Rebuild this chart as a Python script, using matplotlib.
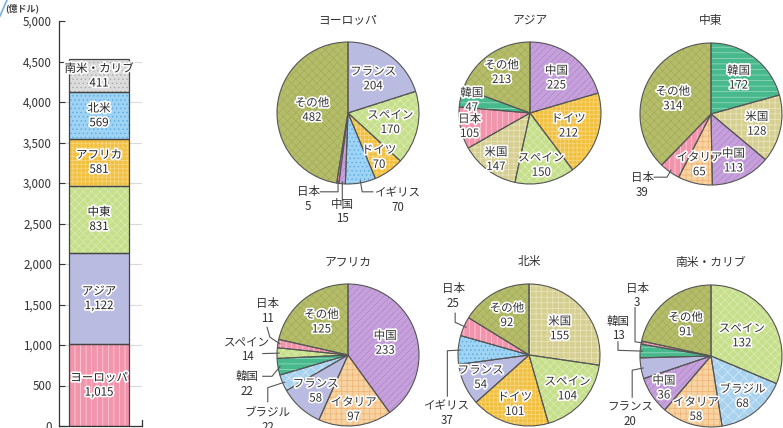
import numpy as np
import matplotlib
matplotlib.use("Agg")
import matplotlib.pyplot as plt
import matplotlib.patheffects as pe
from matplotlib.patches import Wedge
from matplotlib.lines import Line2D

plt.rcParams['font.family'] = ['Noto Sans CJK JP', 'DejaVu Sans']
plt.rcParams['hatch.linewidth'] = 0.5

# --- data ---
bar_regions = ["ヨーロッパ", "アジア", "中東", "アフリカ", "北米", "南米・カリブ"]
bar_values = [1015, 1122, 831, 581, 569, 411]
bar_styles = ["日本", "フランス", "スペイン", "ドイツ", "イギリス", "灰"]

europe_names = ["フランス", "スペイン", "ドイツ", "イギリス", "中国", "日本", "その他"]
europe_values = [204, 170, 70, 70, 15, 5, 482]
asia_names = ["中国", "ドイツ", "スペイン", "米国", "日本", "韓国", "その他"]
asia_values = [225, 212, 150, 147, 105, 47, 213]
mideast_names = ["韓国", "米国", "中国", "イタリア", "日本", "その他"]
mideast_values = [172, 128, 113, 65, 39, 314]
africa_names = ["中国", "イタリア", "フランス", "ブラジル", "韓国", "スペイン", "日本", "その他"]
africa_values = [233, 97, 58, 22, 22, 14, 11, 125]
namerica_names = ["米国", "スペイン", "ドイツ", "フランス", "イギリス", "日本", "その他"]
namerica_values = [155, 104, 101, 54, 37, 25, 92]
samerica_names = ["スペイン", "ブラジル", "イタリア", "中国", "フランス", "韓国", "日本", "その他"]
samerica_values = [132, 68, 58, 36, 20, 13, 3, 91]

# --- styles: base colour, hatch, hatch colour ---
STYLE = {
    "その他": ("#b5bd6b", "xxxx", "#a3ac59"),
    "フランス": ("#b9bbe0", None, None),
    "スペイン": ("#c6df8b", "xxxx", "#dcebb6"),
    "ドイツ": ("#f1c03f", "++++", "#f7d887"),
    "イギリス": ("#9fd3f4", "....", "#5aaae0"),
    "中国": ("#c6a0db", "/////", "#b186ca"),
    "日本": ("#f294ab", "|||", "#fcd6df"),
    "韓国": ("#47b98d", "---", "#9fdcc2"),
    "米国": ("#d6cf92", "+++", "#ebe6c0"),
    "イタリア": ("#f8d3a2", "+++", "#eeb274"),
    "ブラジル": ("#a9d2ee", "xxx", "#d6eaf8"),
    "灰": ("#dcdcdc", "....", "#ababab"),
}
EDGE = "#555555"
W, H = 783, 428
R = 71

stroke = [pe.withStroke(linewidth=2.4, foreground="white")]


def out(text, path):
    return {"text": text, "path": path}


# label placement (inside: radius fraction, outside: text pos + leader points)
europe_pos = [0.6, 0.61, 0.76,
              out((0.70, -1.23), [(0.35, -1.11), (0.2, -1.11)]),
              out((-0.08, -1.39), [(-0.08, -1.23)]),
              out((-0.56, -1.21), [(-0.39, -1.11), (-0.14, -1.11)]),
              0.51]
asia_pos = [0.62, 0.57, 0.75, 0.81, 0.87, 0.84, 0.7]
mideast_pos = [0.64, 0.66, 0.73, 0.73,
               out((-0.97, -1.0), [(-0.8, -0.89), (-0.62, -0.89)]),
               0.58]
africa_pos = [0.55, 0.77, 0.68,
              out((-1.13, -0.92), [(-1.13, -0.66), (-1.13, -0.46)]),
              out((-1.42, -0.41), [(-1.2, -0.3), (-1.07, -0.3)]),
              out((-1.42, 0.08), [(-1.2, 0.02)]),
              out((-1.13, 0.62), [(-1.14, 0.39), (-1.1, 0.25)]),
              0.6]
namerica_pos = [0.57, 0.72, 0.72, 0.75,
                out((-1.15, -0.82), [(-1.15, -0.58), (-1.15, 0.06)]),
                out((-1.07, 0.83), [(-1.04, 0.59), (-1.04, 0.46)]),
                0.64]
samerica_pos = [0.52, 0.72, 0.78, 0.8,
                out((-1.14, -0.82), [(-1.11, -0.58), (-1.11, -0.2)]),
                out((-1.31, 0.39), [(-1.31, 0.2), (-1.31, 0.08)]),
                out((-1.04, 0.85), [(-1.07, 0.68), (-1.07, 0.2)]),
                0.57]

fig = plt.figure(figsize=(W / 100, H / 100), dpi=100)

# --- stacked bar ---
ax = fig.add_axes([59 / W, 2 / H, 83 / W, 405 / H])
bottom = 0
for name, v, st in zip(bar_regions, bar_values, bar_styles):
    fc, hatch, hc = STYLE[st]
    ax.bar(0.482, v, width=0.723, bottom=bottom, color=fc, linewidth=0, zorder=2)
    if hatch:
        ax.bar(0.482, v, width=0.723, bottom=bottom, color="none", edgecolor=hc,
               hatch=hatch, linewidth=0, zorder=2)
    ax.bar(0.482, v, width=0.723, bottom=bottom, color="none", edgecolor="#444444",
           linewidth=0.9, zorder=3)
    ax.text(0.482, bottom + v / 2, f"{name}\n{v:,}", ha="center", va="center",
            fontsize=8.3, color="#222222", linespacing=1.15, path_effects=stroke, zorder=4)
    bottom += v

ax.set_xlim(0, 1)
ax.set_ylim(0, 5000)
ax.set_yticks(range(0, 5001, 500))
ax.set_yticklabels([f"{t:,}" for t in range(0, 5001, 500)], fontsize=8.3, color="#333333")
ax.set_xticks([])
ax.tick_params(axis="y", direction="in", length=4, width=0.8, color="#333333", pad=5)
ax.grid(axis="y", color="#d9d9d9", linewidth=0.8, zorder=0)
ax.set_axisbelow(True)
ax.get_ygridlines()[-1].set_visible(False)
for sp in ["top", "right"]:
    ax.spines[sp].set_visible(False)
for sp in ["left", "bottom"]:
    ax.spines[sp].set_color("#333333")
    ax.spines[sp].set_linewidth(0.9)
ax.plot([1, 1], [0, 0.015], transform=ax.transAxes, color="#333333", lw=0.9, clip_on=False)

fig.text(5 / W, 1 - 8 / H, "(億ドル)", fontsize=6.5, color="#444444", va="center", ha="left",
         fontweight="bold")
fig.add_artist(Line2D([0, 7 / W], [1 - 16 / H, 1], color="#7aaedc", lw=1.2))


# --- pies ---
def draw_pie(cx, cy, title, names, values, placements):
    s = 1.7 * R
    pax = fig.add_axes([(cx - s) / W, 1 - (cy + s) / H, 2 * s / W, 2 * s / H])
    pax.set_axis_off()
    colors = [STYLE[n][0] for n in names]
    wedges, _ = pax.pie(values, colors=colors, startangle=90, counterclock=False,
                        radius=1, wedgeprops=dict(linewidth=0))
    for w, n, v, p in zip(wedges, names, values, placements):
        fc, hatch, hc = STYLE[n]
        if hatch:
            pax.add_patch(Wedge(w.center, w.r, w.theta1, w.theta2, facecolor="none",
                                edgecolor=hc, hatch=hatch, linewidth=0))
        pax.add_patch(Wedge(w.center, w.r, w.theta1, w.theta2, facecolor="none",
                            edgecolor=EDGE, linewidth=0.8))
        mid = np.deg2rad((w.theta1 + w.theta2) / 2)
        label = f"{n}\n{v}"
        if isinstance(p, dict):
            end = (0.97 * np.cos(mid), 0.97 * np.sin(mid))
            pts = p["path"] + [end]
            xs, ys = zip(*pts)
            pax.plot(xs, ys, color=EDGE, lw=0.8, clip_on=False)
            pax.text(p["text"][0], p["text"][1], label, ha="center", va="center",
                     fontsize=8.3, color="#333333", linespacing=1.15, clip_on=False)
        else:
            pax.text(p * np.cos(mid), p * np.sin(mid), label, ha="center", va="center",
                     fontsize=8.3, color="#333333", linespacing=1.15, path_effects=stroke,
                     zorder=5)
    pax.text(0, 1.31, title, ha="center", va="center", fontsize=8.5, color="#333333")
    pax.set_xlim(-1.7, 1.7)
    pax.set_ylim(-1.7, 1.7)
    pax.set_aspect("equal")


draw_pie(348, 113, "ヨーロッパ", europe_names, europe_values, europe_pos)
draw_pie(530, 113, "アジア", asia_names, asia_values, asia_pos)
draw_pie(711, 114, "中東", mideast_names, mideast_values, mideast_pos)
draw_pie(348, 355, "アフリカ", africa_names, africa_values, africa_pos)
draw_pie(529, 355, "北米", namerica_names, namerica_values, namerica_pos)
draw_pie(711, 356, "南米・カリブ", samerica_names, samerica_values, samerica_pos)

fig.savefig("out.png", dpi=100)
